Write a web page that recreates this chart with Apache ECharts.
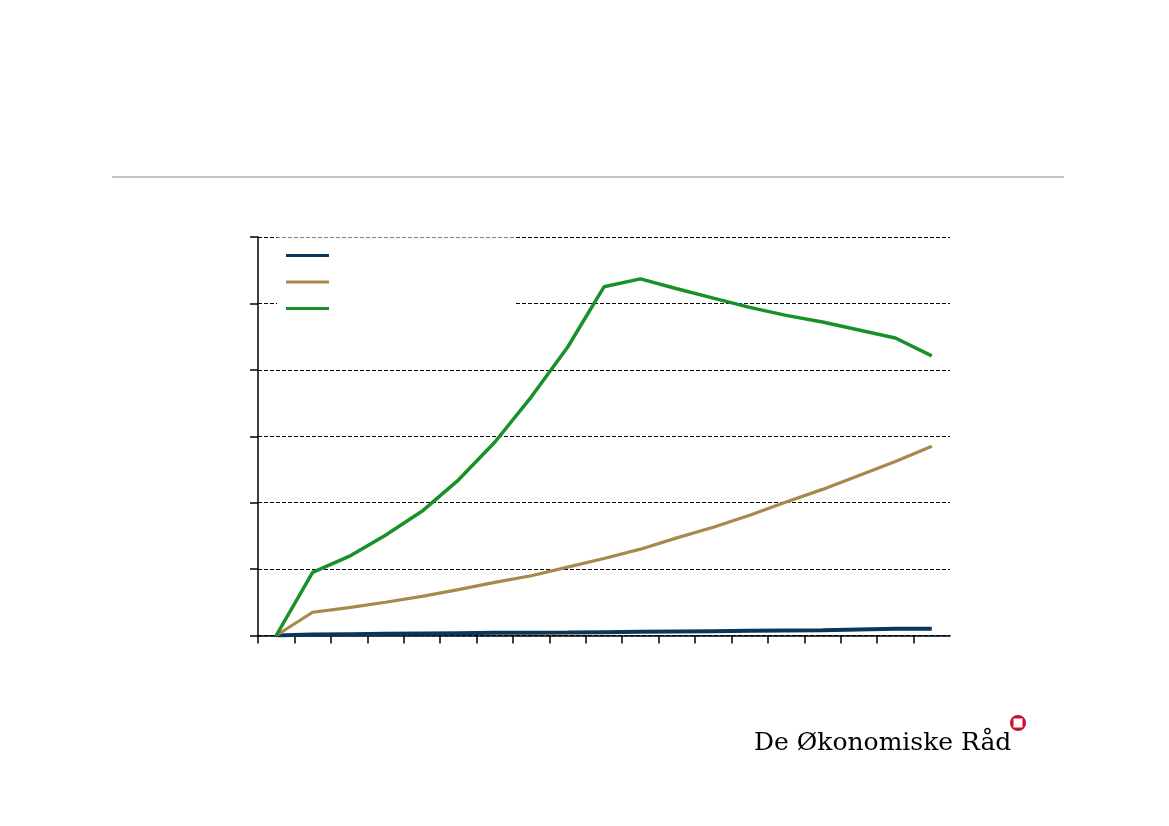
<!DOCTYPE html>
<html>
<head>
<meta charset="utf-8">
<script src="https://cdn.jsdelivr.net/npm/echarts@6/dist/echarts.min.js"></script>
<style>html,body{margin:0;padding:0;background:#fff;}#c{width:1169px;height:826px;}</style>
</head>
<body>
<div id="c"></div>
<script>
// period index 0..18 (19 periods)
const periods = [0,1,2,3,4,5,6,7,8,9,10,11,12,13,14,15,16,17,18];
const seriesBlue  = [0,0.15,0.2,0.25,0.3,0.35,0.4,0.42,0.45,0.5,0.55,0.6,0.65,0.7,0.75,0.8,0.9,1.0,1.0];
const seriesTan   = [0,3.5,4.2,5.0,5.9,6.9,8.0,9.0,10.3,11.6,13.0,14.7,16.3,18.1,20.1,22.0,24.1,26.2,28.5];
const seriesGreen = [0,9.5,11.9,15.1,18.7,23.4,29.1,35.9,43.4,52.5,53.7,52.2,50.8,49.4,48.2,47.2,46.0,44.8,42.1];
const yTicks = [0,10,20,30,40,50,60];
const xTicks = [0,1,2,3,4,5,6,7,8,9,10,11,12,13,14,15,16,17,18];

const pairs = arr => arr.map((v,i) => [periods[i] + 0.5, v]);

const chart = echarts.init(document.getElementById('c'), null, {renderer:'canvas'});
chart.setOption({
  animation:false,
  backgroundColor:'#fff',
  grid:{left:258, right:219, top:237, bottom:190.5, containLabel:false},
  xAxis:{
    type:'value', min:0, max:19, interval:1,
    axisLine:{show:true, onZero:false, lineStyle:{color:'#000', width:1.5}},
    axisTick:{show:true, length:8, inside:false, customValues:xTicks, lineStyle:{color:'#000', width:1.5}},
    axisLabel:{show:false},
    splitLine:{show:false}
  },
  yAxis:{
    type:'value', min:0, max:60, interval:10,
    axisLine:{show:true, lineStyle:{color:'#000', width:1.5}},
    axisTick:{show:true, length:8, lineStyle:{color:'#000', width:1.5}},
    axisLabel:{show:false},
    splitLine:{show:true, lineStyle:{color:'#000', width:1, type:[4,2]}}
  },
  legend:{
    left:277, top:237.5, orient:'vertical',
    backgroundColor:'#fff',
    padding:[16.5,181,15,9],
    itemWidth:43, itemHeight:3, itemGap:23.5,
    icon:'rect',
    formatter:()=>'',
    textStyle:{fontSize:1, lineHeight:1},
    data:['Blue','Tan','Green']
  },
  graphic:[
    {type:'line', shape:{x1:112,y1:177,x2:1064,y2:177}, style:{stroke:'#c4c4c4', lineWidth:2}},
    {type:'text', left:754, top:731, style:{text:'De Økonomiske Råd', font:'25px "DejaVu Serif"', fill:'#000'}},
    {type:'circle', shape:{cx:1018, cy:723, r:8}, style:{fill:'#c8102e'}},
    {type:'rect', shape:{x:1013.5, y:718.5, width:9, height:9}, style:{fill:'#fff'}},
    {type:'circle', shape:{cx:1018, cy:723, r:3}, style:{fill:'#fff'}}
  ],
  series:[
    {name:'Blue', type:'line', data:pairs(seriesBlue), showSymbol:false, symbol:'none', lineStyle:{color:'#0c3658', width:4}, itemStyle:{color:'#0c3658'}, z:3},
    {name:'Tan', type:'line', data:pairs(seriesTan), showSymbol:false, symbol:'none', lineStyle:{color:'#a68a4b', width:3.2}, itemStyle:{color:'#a68a4b'}, z:4},
    {name:'Green', type:'line', data:pairs(seriesGreen), showSymbol:false, symbol:'none', lineStyle:{color:'#1a9029', width:3.5}, itemStyle:{color:'#1a9029'}, z:5}
  ]
});
</script>
</body>
</html>
